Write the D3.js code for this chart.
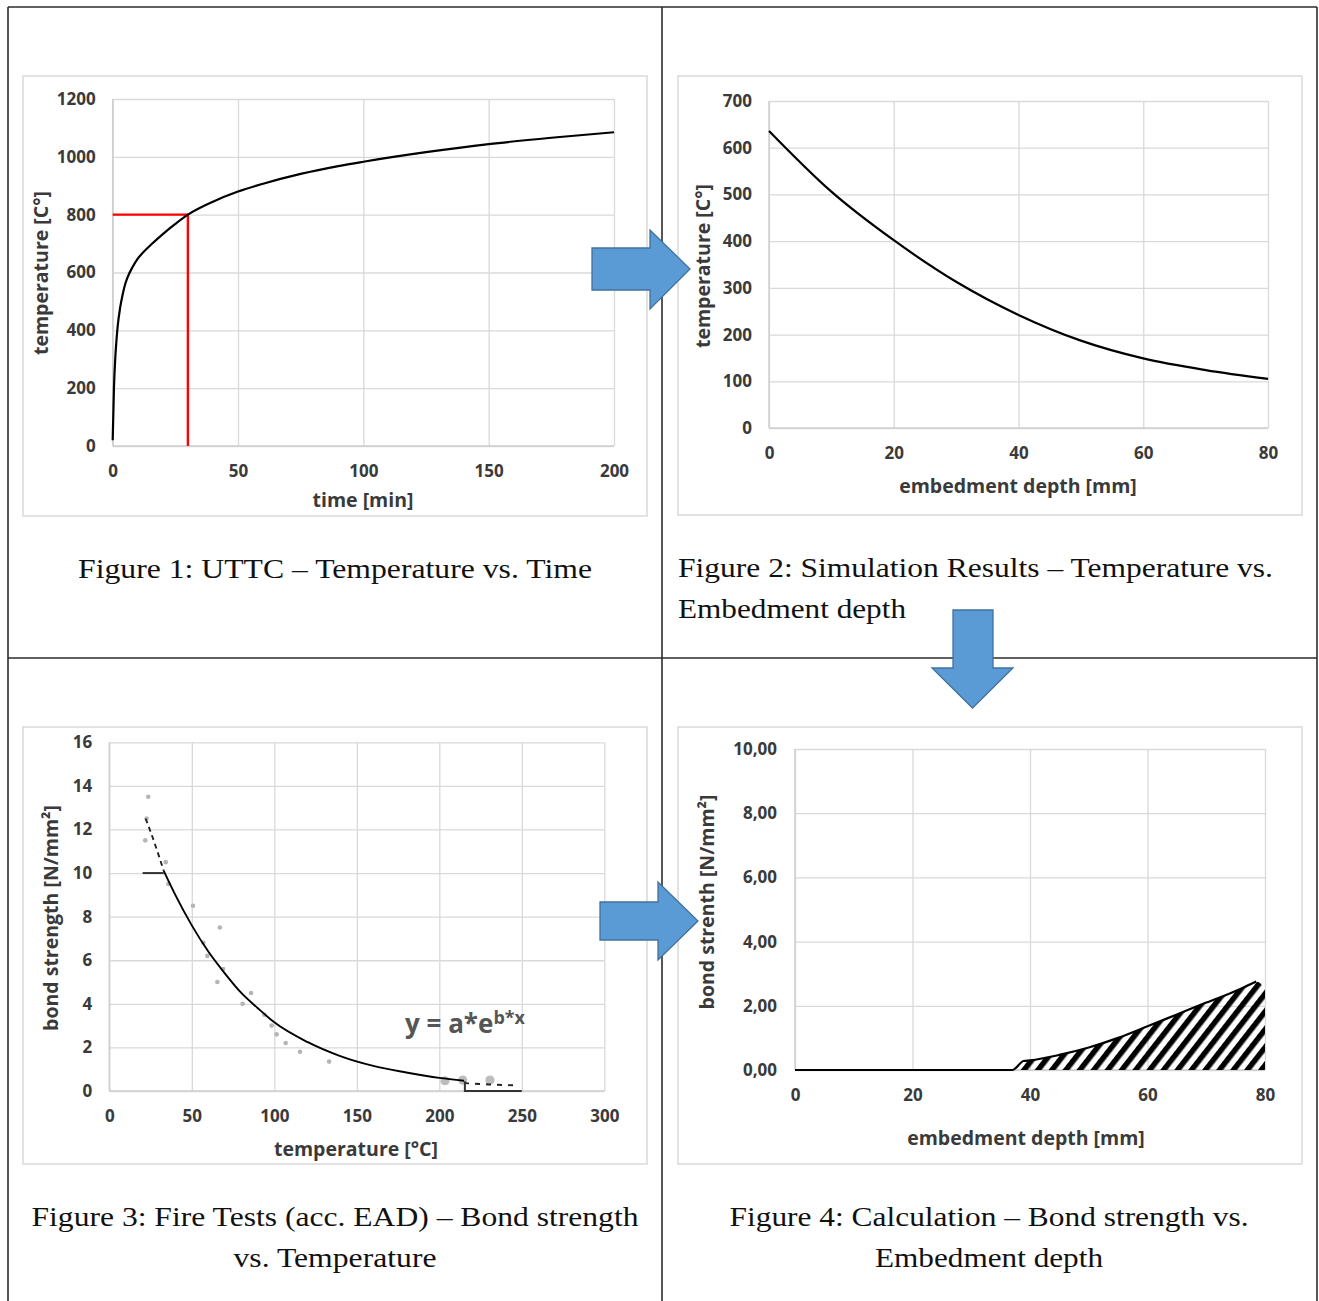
<!DOCTYPE html>
<html>
<head>
<meta charset="utf-8">
<script src="https://cdn.jsdelivr.net/npm/d3@7"></script>
<style>
  body { margin: 0; background: #fff; }
  svg { display: block; }
</style>
</head>
<body>
<svg id="sheet" width="1319" height="1301"></svg>
<script>
// ---- Figure 1: UTTC temperature vs. time ----
const uttcTime = [0, 0.5, 1, 1.5, 2, 3, 4, 5, 6, 8, 10, 12, 16, 20, 25, 30, 40, 50, 60, 75, 90, 100, 125, 150, 175, 200];
const uttcTemp = [20, 200, 300, 365, 415, 480, 525, 560, 585, 620, 648, 668, 702, 733, 768, 800, 845, 880, 907, 941, 968, 983, 1016, 1044, 1066, 1085];
const uttcMarkTime = 30;
const uttcMarkTemp = 800;
const fig1XTicks = [0, 50, 100, 150, 200];
const fig1YTicks = [0, 200, 400, 600, 800, 1000, 1200];

// ---- Figure 2: simulated temperature vs. embedment depth ----
const simDepth = [0, 10, 20, 30, 40, 50, 60, 70, 80];
const simTemp = [636, 506, 402, 313, 242, 187, 149, 124, 105];
const fig2XTicks = [0, 20, 40, 60, 80];
const fig2YTicks = [0, 100, 200, 300, 400, 500, 600, 700];

// ---- Figure 3: fire tests, bond strength vs. temperature ----
const testTemp = [23.6, 22.6, 21.8, 34.2, 35.8, 50.7, 57, 59.4, 67, 65.5, 69, 80.8, 85.9, 94, 98.4, 101.4, 106.9, 115.6, 133.2];
const testBond = [13.5, 12.5, 11.5, 10.5, 9.5, 8.5, 6.8, 6.2, 7.5, 5.0, 5.6, 4.0, 4.5, 3.5, 3.0, 2.6, 2.2, 1.8, 1.35];
const hotTestTemp = [203.5, 214.2, 230.7];
const hotTestBond = [0.47, 0.5, 0.5];
const fitTemp = [33, 40, 50, 60, 70, 80, 90, 100, 120, 140, 160, 180, 200, 215];
const fitBond = [10.1, 9.0, 7.6, 6.4, 5.4, 4.5, 3.8, 3.15, 2.25, 1.6, 1.15, 0.85, 0.6, 0.47];
const fitColdTemp = [22, 25, 30, 33];
const fitColdBond = [12.5, 11.9, 10.8, 10.1];
const fitHotTemp = [215, 230, 245];
const fitHotBond = [0.36, 0.3, 0.26];
const capTemp = [20.2, 33];
const capBond = [10, 10];
const tailTemp = [215.5, 215.5, 250];
const tailBond = [0.45, 0, 0];
const fig3XTicks = [0, 50, 100, 150, 200, 250, 300];
const fig3YTicks = [0, 2, 4, 6, 8, 10, 12, 14, 16];

// ---- Figure 4: calculated bond strength vs. embedment depth ----
const calcDepth = [0, 37, 38.9, 40, 45, 50, 55, 60, 65, 70, 75, 78.5, 80];
const calcBond = [0, 0, 0.28, 0.3, 0.47, 0.7, 1.0, 1.36, 1.73, 2.1, 2.46, 2.76, 2.55];
const fig4XTicks = [0, 20, 40, 60, 80];
const fig4YTicks = [0, 2, 4, 6, 8, 10];

const svg = d3.select("#sheet");
const tickFont = "'Open Sans', sans-serif";
const gridColor = "#d9d9d9";
const labelColor = "#3a3a3a";
const zip = (xs, ys) => xs.map((x, i) => [x, ys[i]]);

// ---- sheet table lines ----
const table = svg.append("g").attr("stroke", "#2b2b2b").attr("stroke-width", 1.6);
table.append("line").attr("x1", 8).attr("x2", 1317).attr("y1", 7).attr("y2", 7);
table.append("line").attr("x1", 8).attr("x2", 1317).attr("y1", 658).attr("y2", 658);
[8, 662, 1317].forEach(x => table.append("line").attr("x1", x).attr("x2", x).attr("y1", 7).attr("y2", 1301));

// ---- generic chart frame with grid and axes ----
function chart(cfg) {
  const g = svg.append("g");
  g.append("rect")
    .attr("x", cfg.frame[0]).attr("y", cfg.frame[1])
    .attr("width", cfg.frame[2] - cfg.frame[0]).attr("height", cfg.frame[3] - cfg.frame[1])
    .attr("fill", "#fff").attr("stroke", gridColor).attr("stroke-width", 1.5);

  const x = d3.scaleLinear().domain(cfg.xDomain).range(cfg.xRange);
  const y = d3.scaleLinear().domain(cfg.yDomain).range(cfg.yRange);
  const w = cfg.xRange[1] - cfg.xRange[0];
  const h = cfg.yRange[0] - cfg.yRange[1];

  // gridlines
  const gx = g.append("g").attr("transform", `translate(0,${cfg.yRange[1]})`)
    .call(d3.axisBottom(x).tickValues(cfg.xTicks).tickSize(h).tickFormat(""));
  const gy = g.append("g").attr("transform", `translate(${cfg.xRange[0]},0)`)
    .call(d3.axisLeft(y).tickValues(cfg.yTicks).tickSize(-w).tickFormat(""));
  [gx, gy].forEach(a => {
    a.select(".domain").remove();
    a.selectAll("line").attr("stroke", gridColor).attr("stroke-width", 1.3);
  });
  g.append("line").attr("x1", cfg.xRange[0]).attr("x2", cfg.xRange[1])
    .attr("y1", cfg.yRange[0]).attr("y2", cfg.yRange[0]).attr("stroke", "#cfcfcf").attr("stroke-width", 1.5);
  g.append("line").attr("x1", cfg.xRange[0]).attr("x2", cfg.xRange[0])
    .attr("y1", cfg.yRange[0]).attr("y2", cfg.yRange[1]).attr("stroke", "#cfcfcf").attr("stroke-width", 1.5);

  // tick labels
  const ax = g.append("g").attr("transform", `translate(0,${cfg.yRange[0]})`)
    .call(d3.axisBottom(x).tickValues(cfg.xTicks).tickSize(0).tickPadding(cfg.xPad).tickFormat(cfg.xFormat || d3.format("d")));
  const ay = g.append("g").attr("transform", `translate(${cfg.xRange[0]},0)`)
    .call(d3.axisLeft(y).tickValues(cfg.yTicks).tickSize(0).tickPadding(cfg.yPad).tickFormat(cfg.yFormat || d3.format("d")));
  [ax, ay].forEach(a => {
    a.select(".domain").remove();
    a.selectAll("text").attr("font-family", tickFont).attr("font-size", 17)
      .attr("font-weight", 700).attr("fill", labelColor);
  });

  // axis titles
  g.append("text").attr("x", cfg.xTitle[1]).attr("y", cfg.xTitle[2])
    .attr("text-anchor", "middle").attr("font-family", tickFont).attr("font-size", 19.5)
    .attr("font-weight", 700).attr("fill", labelColor).text(cfg.xTitle[0]);
  g.append("text").attr("transform", `translate(${cfg.yTitle[1]},${cfg.yTitle[2]}) rotate(-90)`)
    .attr("text-anchor", "middle").attr("font-family", tickFont).attr("font-size", 19.5)
    .attr("font-weight", 700).attr("fill", labelColor).text(cfg.yTitle[0]);
  return { g, x, y };
}

// captions: each line is [text, x, width]
function caption(lines, y0, anchor) {
  const t = svg.append("text").attr("font-family", "'Liberation Serif', 'Times New Roman', serif")
    .attr("font-size", 27).attr("fill", "#111").attr("text-anchor", anchor);
  lines.forEach((l, i) => t.append("tspan").attr("x", l[1]).attr("y", y0 + i * 41)
    .attr("textLength", l[2]).attr("lengthAdjust", "spacingAndGlyphs").text(l[0]));
}

// ---- Figure 1 ----
{
  const { g, x, y } = chart({
    frame: [23, 76, 647, 516], xDomain: [0, 200], yDomain: [0, 1200],
    xRange: [112.7, 614], yRange: [446, 99], xTicks: fig1XTicks, yTicks: fig1YTicks,
    xPad: 19, yPad: 17, xTitle: ["time [min]", 363, 507], yTitle: ["temperature [C°]", 48, 273]
  });
  g.append("path").datum([[0, uttcMarkTemp], [uttcMarkTime, uttcMarkTemp], [uttcMarkTime, 0]])
    .attr("d", d3.line().x(d => x(d[0])).y(d => y(d[1])))
    .attr("fill", "none").attr("stroke", "#ff0000").attr("stroke-width", 2.4);
  g.append("path").datum(zip(uttcTime, uttcTemp))
    .attr("d", d3.line().x(d => x(d[0])).y(d => y(d[1])).curve(d3.curveMonotoneX))
    .attr("fill", "none").attr("stroke", "#000").attr("stroke-width", 2.2);
}
caption([["Figure 1: UTTC – Temperature vs. Time", 335, 514]], 578, "middle");

// ---- Figure 2 ----
{
  const { g, x, y } = chart({
    frame: [678, 76, 1302, 515], xDomain: [0, 80], yDomain: [0, 700],
    xRange: [769, 1268], yRange: [428, 101], xTicks: fig2XTicks, yTicks: fig2YTicks,
    xPad: 19, yPad: 17, xTitle: ["embedment depth [mm]", 1018, 493], yTitle: ["temperature [C°]", 710, 266]
  });
  g.append("path").datum(zip(simDepth, simTemp))
    .attr("d", d3.line().x(d => x(d[0])).y(d => y(d[1])).curve(d3.curveMonotoneX))
    .attr("fill", "none").attr("stroke", "#000").attr("stroke-width", 2.2);
}
caption([["Figure 2: Simulation Results – Temperature vs.", 678, 595], ["Embedment depth", 678, 228]], 577, "start");

// ---- Figure 3 ----
{
  const { g, x, y } = chart({
    frame: [23, 727, 647, 1164], xDomain: [0, 300], yDomain: [0, 16],
    xRange: [109.3, 604.3], yRange: [1091, 742.3], xTicks: fig3XTicks, yTicks: fig3YTicks,
    xPad: 19, yPad: 17, xTitle: ["temperature [°C]", 356, 1156], yTitle: ["bond strength [N/mm²]", 58, 918]
  });
  const line = d3.line().x(d => x(d[0])).y(d => y(d[1]));
  g.append("g").selectAll("circle").data(zip(testTemp, testBond)).join("circle")
    .attr("cx", d => x(d[0])).attr("cy", d => y(d[1])).attr("r", 2.3).attr("fill", "#b5b5b5");
  g.append("g").selectAll("circle").data(zip(hotTestTemp, hotTestBond)).join("circle")
    .attr("cx", d => x(d[0])).attr("cy", d => y(d[1])).attr("r", 4.6).attr("fill", "#bdbdbd");
  g.append("path").datum(zip(fitTemp, fitBond)).attr("d", line.curve(d3.curveMonotoneX))
    .attr("fill", "none").attr("stroke", "#000").attr("stroke-width", 1.9);
  g.append("path").datum(zip(fitColdTemp, fitColdBond)).attr("d", line.curve(d3.curveMonotoneX))
    .attr("fill", "none").attr("stroke", "#222").attr("stroke-width", 1.9).attr("stroke-dasharray", "5,4");
  g.append("path").datum(zip(fitHotTemp, fitHotBond)).attr("d", line.curve(d3.curveLinear))
    .attr("fill", "none").attr("stroke", "#222").attr("stroke-width", 1.9).attr("stroke-dasharray", "5,6");
  g.append("path").datum(zip(capTemp, capBond)).attr("d", line.curve(d3.curveLinear))
    .attr("fill", "none").attr("stroke", "#333").attr("stroke-width", 2);
  g.append("path").datum(zip(tailTemp, tailBond)).attr("d", line.curve(d3.curveLinear))
    .attr("fill", "none").attr("stroke", "#333").attr("stroke-width", 2);
  const eq = g.append("text").attr("x", 405).attr("y", 1033).attr("font-family", tickFont)
    .attr("font-size", 26).attr("font-weight", 700).attr("fill", "#555");
  eq.append("tspan").text("y = a*e");
  eq.append("tspan").attr("dy", -9).attr("font-size", 18).text("b*x");
}
caption([["Figure 3: Fire Tests (acc. EAD) – Bond strength", 335, 607], ["vs. Temperature", 335, 203]], 1226, "middle");

// ---- Figure 4 ----
{
  const commaFmt = v => d3.format(".2f")(v).replace(".", ",");
  const { g, x, y } = chart({
    frame: [678, 727, 1302, 1164], xDomain: [0, 80], yDomain: [0, 10],
    xRange: [795, 1265], yRange: [1070, 749], xTicks: fig4XTicks, yTicks: fig4YTicks,
    xPad: 19, yPad: 18, yFormat: commaFmt,
    xTitle: ["embedment depth [mm]", 1026, 1145], yTitle: ["bond strenth [N/mm²]", 714, 902]
  });
  const defs = svg.append("defs");
  const pat = defs.append("pattern").attr("id", "hatch").attr("patternUnits", "userSpaceOnUse")
    .attr("width", 11).attr("height", 11).attr("patternTransform", "rotate(38)");
  pat.append("rect").attr("width", 5.5).attr("height", 11).attr("fill", "#000");
  const pts = zip(calcDepth, calcBond);
  g.append("path").datum(pts)
    .attr("d", d3.area().x(d => x(d[0])).y0(y(0)).y1(d => y(d[1])).curve(d3.curveMonotoneX))
    .attr("fill", "url(#hatch)");
  g.append("path").datum(pts.slice(0, -1))
    .attr("d", d3.line().x(d => x(d[0])).y(d => y(d[1])).curve(d3.curveMonotoneX))
    .attr("fill", "none").attr("stroke", "#000").attr("stroke-width", 2.2);
}
caption([["Figure 4: Calculation – Bond strength vs.", 989, 519], ["Embedment depth", 989, 228]], 1226, "middle");

// ---- flow arrows ----
const arrowFill = "#5b9bd5", arrowStroke = "#41719c";
const arrows = [
  [[592, 248], [650, 248], [650, 230], [690, 269], [650, 309], [650, 290], [592, 290]],
  [[953, 610], [993, 610], [993, 668], [1013, 668], [972.5, 708], [932, 668], [953, 668]],
  [[600, 902], [658, 902], [658, 882], [698, 921], [658, 960], [658, 940], [600, 940]]
];
svg.append("g").selectAll("polygon").data(arrows).join("polygon")
  .attr("points", d => d.map(p => p.join(",")).join(" "))
  .attr("fill", arrowFill).attr("stroke", arrowStroke).attr("stroke-width", 1.3);
</script>
</body>
</html>
